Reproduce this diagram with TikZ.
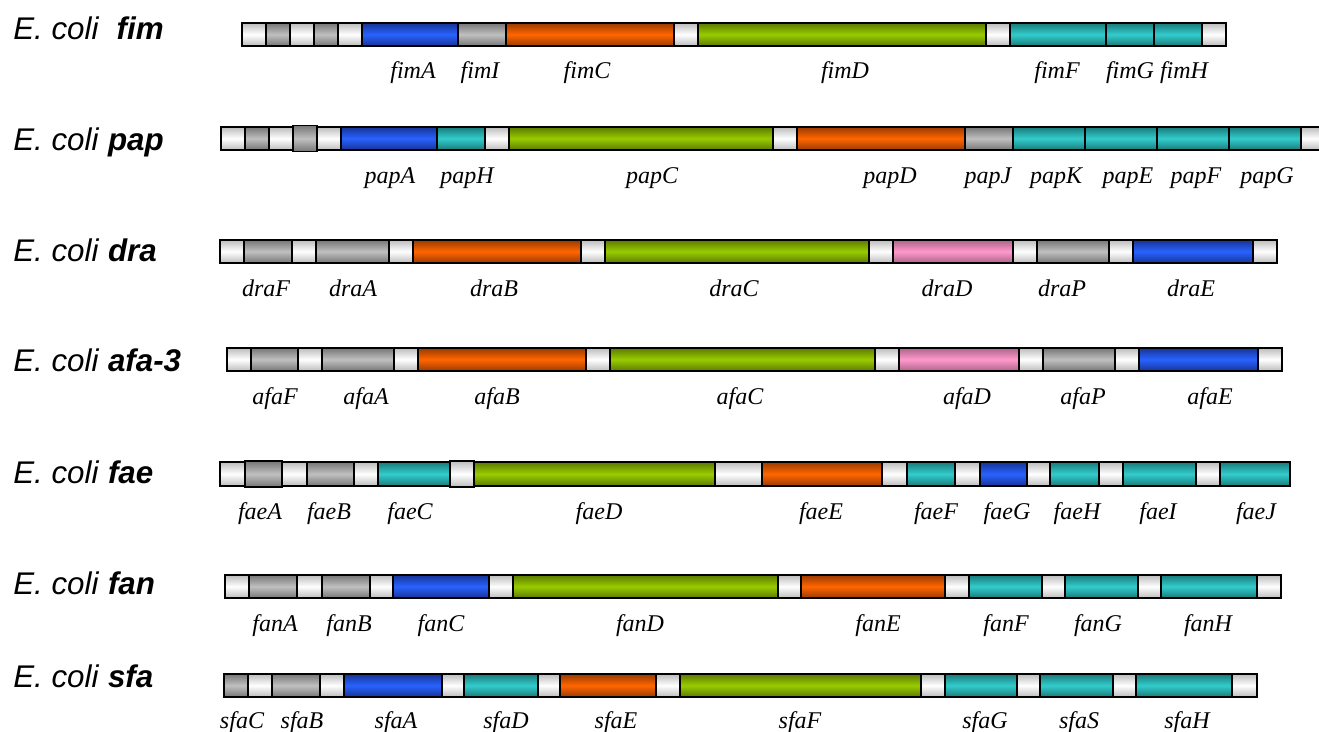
\documentclass[tikz,border=0pt]{standalone}
\usepackage{fontspec}
\setmainfont{Liberation Serif}
\newfontfamily\sansf{Liberation Sans}
\definecolor{cBlue}{RGB}{41,98,255}
\definecolor{eBlue}{RGB}{22,52,150}
\definecolor{cOrange}{RGB}{255,102,0}
\definecolor{eOrange}{RGB}{155,58,0}
\definecolor{cGreen}{RGB}{153,204,0}
\definecolor{eGreen}{RGB}{92,122,0}
\definecolor{cCyan}{RGB}{51,204,204}
\definecolor{eCyan}{RGB}{25,122,122}
\definecolor{cPink}{RGB}{255,153,204}
\definecolor{ePink}{RGB}{172,100,138}
\definecolor{cGray}{RGB}{192,192,192}
\definecolor{eGray}{RGB}{118,118,118}
\definecolor{eWhite}{RGB}{188,188,188}
\tikzset{
  seg/.style={draw=black, line width=1.2pt, inner sep=0pt, outer sep=0pt},
  wh/.style={seg, top color=eWhite, bottom color=eWhite, middle color=white},
  whT/.style={wh, minimum height=26*0.75pt},
  gr/.style={seg, top color=eGray, bottom color=eGray, middle color=cGray},
  grT/.style={gr, minimum height=26*0.75pt},
  bl/.style={seg, top color=eBlue, bottom color=eBlue, middle color=cBlue},
  or/.style={seg, top color=eOrange, bottom color=eOrange, middle color=cOrange},
  gn/.style={seg, top color=eGreen, bottom color=eGreen, middle color=cGreen},
  cy/.style={seg, top color=eCyan, bottom color=eCyan, middle color=cCyan},
  pk/.style={seg, top color=ePink, bottom color=ePink, middle color=cPink},
  lab/.style={anchor=base, inner sep=0pt, font=\fontsize{18}{20}\selectfont\itshape},
  ttl/.style={anchor=base west, inner sep=0pt, font=\sansf\fontsize{23.5}{27}\selectfont}
}
\newcommand\generow[4]{%
  \foreach \a/\b/\s [count=\i] in {#4} {
    \node[minimum height=#3*0.75pt, \s, minimum width={(\b-\a)*0.75pt}] (#1\i) at ({(\a+\b)/2},{#2+#3/2}) {};
  }}
\newcommand\genelabels[3]{%
  \foreach \x/\t in {#3} {
    \node[lab] (#1-\t) at (\x,#2) {\t};
  }}
\begin{document}
\begin{tikzpicture}[x=0.75pt,y=-0.75pt]
\clip (0,0) rectangle (1319,731);
\fill[white] (0,0) rectangle (1319,731);

% titles
\node[ttl] (tfim) at (13,40) {\textit{E. coli}\ \ \textbf{\textit{fim}}};
\node[ttl] (tpap) at (13,151) {\textit{E. coli} \textbf{\textit{pap}}};
\node[ttl] (tdra) at (13,261) {\textit{E. coli} \textbf{\textit{dra}}};
\node[ttl] (tafa) at (13,371) {\textit{E. coli} \textbf{\textit{afa-3}}};
\node[ttl] (tfae) at (13,483) {\textit{E. coli} \textbf{\textit{fae}}};
\node[ttl] (tfan) at (13,594) {\textit{E. coli} \textbf{\textit{fan}}};
\node[ttl] (tsfa) at (13,687) {\textit{E. coli} \textbf{\textit{sfa}}};

% fim
\generow{fim}{23}{23}{242/266/wh, 266/290/gr, 290/314/wh, 314/338/gr, 338/362/wh, 362/458/bl, 458/506/gr, 506/674/or, 674/698/wh, 698/986/gn, 986/1010/wh, 1010/1106/cy, 1106/1154/cy, 1154/1202/cy, 1202/1226/wh}
\genelabels{fim}{79}{413/fimA, 480/fimI, 587/fimC, 845/fimD, 1057/fimF, 1130/fimG, 1184/fimH}

% pap
\generow{pap}{127}{23}{221/245/wh, 245/269/gr, 269/293/wh, 293/317/grT, 317/341/wh, 341/437/bl, 437/485/cy, 485/509/wh, 509/773/gn, 773/797/wh, 797/965/or, 965/1013/gr, 1013/1085/cy, 1085/1157/cy, 1157/1229/cy, 1229/1301/cy, 1301/1325/wh}
\genelabels{pap}{183}{390/papA, 467/papH, 652/papC, 890/papD, 988/papJ, 1056/papK, 1128/papE, 1196/papF, 1267/papG}

% dra
\generow{dra}{240}{23}{220/244/wh, 244/292/gr, 292/316/wh, 316/389/gr, 389/413/wh, 413/581/or, 581/605/wh, 605/869/gn, 869/893/wh, 893/1013/pk, 1013/1037/wh, 1037/1109/gr, 1109/1133/wh, 1133/1253/bl, 1253/1277/wh}
\genelabels{dra}{296}{266/draF, 353/draA, 494/draB, 734/draC, 947/draD, 1062/draP, 1191/draE}

% afa
\generow{afa}{348}{23}{227/251/wh, 251/298/gr, 298/322/wh, 322/394/gr, 394/418/wh, 418/586/or, 586/610/wh, 610/875/gn, 875/899/wh, 899/1019/pk, 1019/1043/wh, 1043/1115/gr, 1115/1139/wh, 1139/1258/bl, 1258/1282/wh}
\genelabels{afa}{404}{275/afaF, 366/afaA, 497/afaB, 740/afaC, 967/afaD, 1083/afaP, 1210/afaE}

% fae
\generow{fae}{462}{24}{220/245/wh, 245/282/grT, 282/307/wh, 307/354/gr, 354/378/wh, 378/450/cy, 450/474/whT, 474/715/gn, 715/762/wh, 762/882/or, 882/907/wh, 907/955/cy, 955/980/wh, 980/1027/bl, 1027/1050/wh, 1050/1099/cy, 1099/1123/wh, 1123/1196/cy, 1196/1220/wh, 1220/1290/cy}
\genelabels{fae}{519}{260/faeA, 329/faeB, 410/faeC, 599/faeD, 821/faeE, 936/faeF, 1007/faeG, 1077/faeH, 1158/faeI, 1256/faeJ}

% fan
\generow{fan}{575}{23}{225/249/wh, 249/297/gr, 297/322/wh, 322/370/gr, 370/393/wh, 393/489/bl, 489/513/wh, 513/778/gn, 778/801/wh, 801/945/or, 945/969/wh, 969/1042/cy, 1042/1065/wh, 1065/1138/cy, 1138/1161/wh, 1161/1257/cy, 1257/1281/wh}
\genelabels{fan}{631}{275/fanA, 349/fanB, 441/fanC, 640/fanD, 878/fanE, 1006/fanF, 1098/fanG, 1208/fanH}

% sfa
\generow{sfa}{674}{23}{224/248/gr, 248/272/wh, 272/320/gr, 320/344/wh, 344/442/bl, 442/464/wh, 464/538/cy, 538/560/wh, 560/656/or, 656/680/wh, 680/921/gn, 921/945/wh, 945/1017/cy, 1017/1040/wh, 1040/1113/cy, 1113/1136/wh, 1136/1232/cy, 1232/1257/wh}
\genelabels{sfa}{728}{242/sfaC, 302/sfaB, 396/sfaA, 506/sfaD, 616/sfaE, 800/sfaF, 985/sfaG, 1079/sfaS, 1187/sfaH}
\end{tikzpicture}
\end{document}
